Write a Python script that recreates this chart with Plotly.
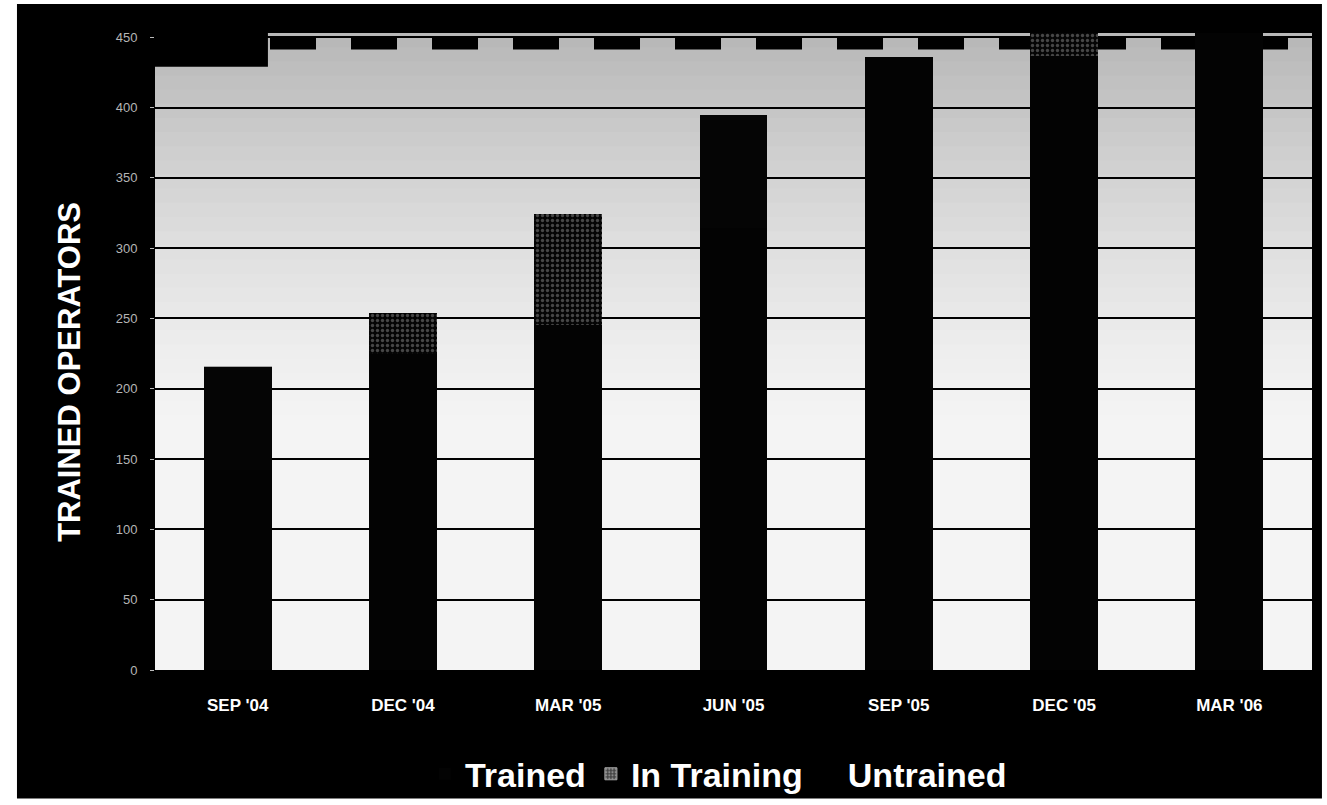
import plotly.graph_objects as go

# ---- data ----
categories = ["SEP '04", "DEC '04", "MAR '05", "JUN '05", "SEP '05", "DEC '05", "MAR '06"]
trained = [142, 225, 245, 314, 436, 437, 460]
in_training = [74, 29, 79, 81, 0, 17, 0]
untrained_level = 445.5
y_ticks = [0, 50, 100, 150, 200, 250, 300, 350, 400, 450]

FONT = "Liberation Sans, Arial, sans-serif"
Y_MAX = 453

fig = go.Figure()

fig.add_trace(go.Bar(
    name="Trained", x=categories, y=trained,
    marker=dict(color="#030303", line=dict(width=0)),
    width=0.41,
))
fig.add_trace(go.Bar(
    name="In Training", x=categories, y=in_training, showlegend=False,
    marker=dict(color="#050505", line=dict(width=0),
                pattern=dict(shape=["", ".", ".", "", "", ".", ""], fgcolor="#8a8a8a",
                             bgcolor="#050505", size=5, solidity=0.35)),
    width=0.41,
))
# legend key for "In Training"
fig.add_trace(go.Bar(
    name="In Training", x=[categories[0]], y=[0],
    marker=dict(color="#555555", line=dict(width=1, color="#aaaaaa"),
                pattern=dict(shape=".", fgcolor="#d0d0d0", bgcolor="#444444", size=4, solidity=0.4)),
    width=0.41,
))
fig.add_trace(go.Scatter(
    name="Untrained", x=[None], y=[None], mode="lines",
    line=dict(color="black", width=2),
))

shapes = []
# outer black frame
shapes.append(dict(type="rect", xref="paper", yref="paper",
                   x0=-0.1193, x1=1.0086, y0=-0.2016, y1=1.0457,
                   fillcolor="black", line=dict(width=0), layer="below"))


def band_color(v):
    if v < 170:
        g = 244
    else:
        t = (v - 170) / (Y_MAX - 170)
        g = 244 - 62 * (t ** 1.4)
    g = int(round(g))
    return f"rgb({g},{g},{g})"


n = 45
step = Y_MAX / n
for i in range(n):
    a = step * i
    b = step * (i + 1)
    # each band starts at the bottom and later (darker) bands are drawn over earlier ones
    shapes.append(dict(type="rect", xref="paper", yref="y", x0=0, x1=1, y0=a, y1=Y_MAX + 5,
                       fillcolor=band_color((a + b) / 2), line=dict(width=0), layer="below"))

# black block at upper-left of plot area
shapes.append(dict(type="rect", xref="paper", yref="y", x0=0, x1=0.0976, y0=429, y1=Y_MAX + 5,
                   fillcolor="black", line=dict(width=0), layer="below"))
# untrained dashed level line
shapes.append(dict(type="line", xref="paper", yref="y", x0=0.0994, x1=0.981,
                   y0=untrained_level, y1=untrained_level,
                   line=dict(color="black", width=12, dash="46px,35px"), layer="between"))

fig.update_layout(
    width=1327, height=805,
    margin=dict(l=155, r=15, t=33, b=135, autoexpand=False),
    paper_bgcolor="white",
    plot_bgcolor="rgba(0,0,0,0)",
    barmode="stack",
    shapes=shapes,
    showlegend=True,
    legend=dict(orientation="h", x=0.487, xanchor="center", y=-0.118, yanchor="top",
                font=dict(family=FONT, size=34, color="white", weight="bold"),
                bgcolor="rgba(0,0,0,0)", itemwidth=30, traceorder="normal"),
    annotations=[dict(text="TRAINED OPERATORS", xref="paper", yref="paper",
                      x=-0.0735, y=0.468, textangle=-90, showarrow=False,
                      xanchor="center", yanchor="middle",
                      font=dict(family=FONT, size=31, color="white", weight="bold"))],
    xaxis=dict(
        showgrid=False, zeroline=False, showline=False,
        ticks="outside", ticklen=20, tickcolor="black",
        tickfont=dict(family=FONT, size=17, color="white", weight="bold"),
        range=[-0.5, 6.5],
    ),
    yaxis=dict(
        range=[0, Y_MAX], tickvals=y_ticks,
        showgrid=True, gridcolor="black", gridwidth=2,
        zeroline=False, showline=False,
        ticks="outside", ticklen=4, tickcolor="#bbbbbb",
        ticklabelstandoff=10,
        tickfont=dict(family="Liberation Sans Narrow, Liberation Sans, Arial", size=13, color="#b5b5b5"),
    ),
)

fig.write_html("out.html", config={"displayModeBar": False},
               post_script="document.body.style.margin='0';document.body.style.overflow='hidden';")
